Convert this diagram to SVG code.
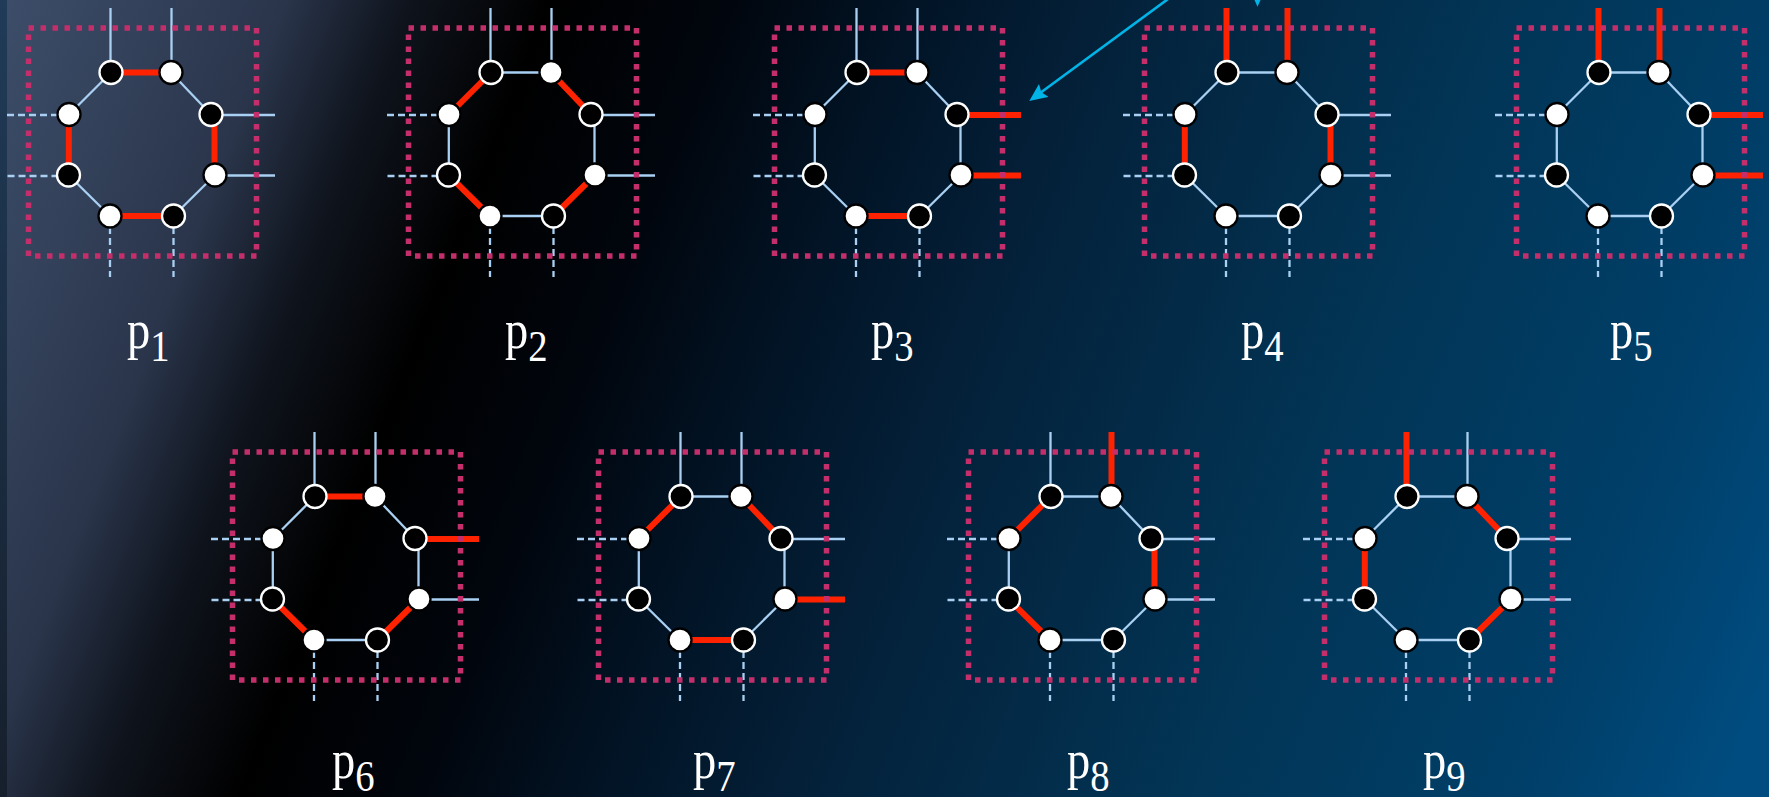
<svg xmlns="http://www.w3.org/2000/svg" xmlns:xlink="http://www.w3.org/1999/xlink" width="1769" height="797" viewBox="0 0 1769 797">
<style>
.e{stroke:#A9D0F2;stroke-width:2.3;fill:none}
.d{stroke:#A9D0F2;stroke-width:2.3;stroke-dasharray:7 4;fill:none}
.r{stroke:#FF2200;stroke-width:6;fill:none}
.b{fill:#000;stroke:#fff;stroke-width:2.3}
.w{fill:#fff;stroke:#000;stroke-width:2.3}
.box{fill:none;stroke:#C42E6A;stroke-width:5.5;stroke-dasharray:5.5 6.5}
.lbl{font-family:"Liberation Serif","Times New Roman",serif;font-size:54px;fill:#fff}
.sub{font-size:45px}
.arr{stroke:#00B4E8;stroke-width:2.6;fill:none}
</style>
<defs>
<linearGradient id="bg" gradientUnits="userSpaceOnUse" x1="0" y1="0" x2="1769" y2="690">
<stop offset="0" stop-color="#3D4E6A"/>
<stop offset="0.14" stop-color="#2A354B"/>
<stop offset="0.2" stop-color="#0F141D"/>
<stop offset="0.27" stop-color="#000000"/>
<stop offset="0.36" stop-color="#01060E"/>
<stop offset="0.45" stop-color="#021426"/>
<stop offset="0.55" stop-color="#04213A"/>
<stop offset="0.74" stop-color="#023556"/>
<stop offset="0.9" stop-color="#003F69"/>
<stop offset="1" stop-color="#004C80"/>
</linearGradient>
<linearGradient id="strip" x1="0" y1="0" x2="0" y2="1">
<stop offset="0" stop-color="#203B58"/>
<stop offset="1" stop-color="#161F2C"/>
</linearGradient>
<marker id="ah" viewBox="0 0 18 16" refX="10" refY="8" markerWidth="18" markerHeight="16" markerUnits="userSpaceOnUse" orient="auto">
<path d="M0,0 L18,8 L0,16 L3,8 z" fill="#00B4E8"/>
</marker>
<line id="e01" x1="111" y1="72.5" x2="171" y2="72.5"/>
<line id="e12" x1="171" y1="72.5" x2="211" y2="114.5"/>
<line id="e23" x1="214.5" y1="114.5" x2="214.5" y2="175"/>
<line id="e34" x1="215" y1="175" x2="173.5" y2="216"/>
<line id="e45" x1="173.5" y1="216" x2="110" y2="216"/>
<line id="e56" x1="110" y1="216" x2="68.5" y2="175"/>
<line id="e67" x1="68.8" y1="175" x2="68.8" y2="114.5"/>
<line id="e70" x1="69" y1="114.5" x2="111" y2="72.5"/>
<line id="t0" x1="110.5" y1="8" x2="110.5" y2="72.5"/>
<line id="t1" x1="171.5" y1="8" x2="171.5" y2="72.5"/>
<line id="r2" x1="211" y1="115" x2="275" y2="115"/>
<line id="r3" x1="215" y1="175.5" x2="275" y2="175.5"/>
<line id="b4" x1="173.5" y1="216" x2="173.5" y2="277"/>
<line id="b5" x1="110" y1="216" x2="110" y2="277"/>
<line id="l6" x1="7.5" y1="176" x2="68.5" y2="176"/>
<line id="l7" x1="7" y1="115" x2="69" y2="115"/>
<g id="nodes">
<circle class="b" cx="111" cy="72.5" r="11.5"/>
<circle class="w" cx="171" cy="72.5" r="11.5"/>
<circle class="b" cx="211" cy="114.5" r="11.5"/>
<circle class="w" cx="215" cy="175" r="11.5"/>
<circle class="b" cx="173.5" cy="216" r="11.5"/>
<circle class="w" cx="110" cy="216" r="11.5"/>
<circle class="b" cx="68.5" cy="175" r="11.5"/>
<circle class="w" cx="69" cy="114.5" r="11.5"/>
</g>
<rect id="box" x="28.5" y="28" width="228" height="228"/>
</defs>
<rect x="0" y="0" width="1769" height="797" fill="url(#bg)"/>
<rect x="0" y="0" width="7" height="797" fill="url(#strip)"/>

<g id="p1">
<use href="#t0" class="e"/><use href="#t1" class="e"/><use href="#r2" class="e"/><use href="#r3" class="e"/>
<use href="#b4" class="d"/><use href="#b5" class="d"/><use href="#l6" class="d"/><use href="#l7" class="d"/>
<use href="#e01" class="r"/><use href="#e12" class="e"/><use href="#e23" class="r"/><use href="#e34" class="e"/>
<use href="#e45" class="r"/><use href="#e56" class="e"/><use href="#e67" class="r"/><use href="#e70" class="e"/>
<use href="#nodes"/><use href="#box" class="box"/>
<text class="lbl" transform="matrix(0.86 0 0 1 127 348)">p<tspan class="sub" dy="13">1</tspan></text>
</g>

<g id="p2" transform="translate(380,0)">
<use href="#t0" class="e"/><use href="#t1" class="e"/><use href="#r2" class="e"/><use href="#r3" class="e"/>
<use href="#b4" class="d"/><use href="#b5" class="d"/><use href="#l6" class="d"/><use href="#l7" class="d"/>
<use href="#e01" class="e"/><use href="#e12" class="r"/><use href="#e23" class="e"/><use href="#e34" class="r"/>
<use href="#e45" class="e"/><use href="#e56" class="r"/><use href="#e67" class="e"/><use href="#e70" class="r"/>
<use href="#nodes"/><use href="#box" class="box"/>
<text class="lbl" transform="matrix(0.86 0 0 1 125 348)">p<tspan class="sub" dy="13">2</tspan></text>
</g>

<g id="p3" transform="translate(746,0)">
<use href="#t0" class="e"/><use href="#t1" class="e"/><use href="#r2" class="r"/><use href="#r3" class="r"/>
<use href="#b4" class="d"/><use href="#b5" class="d"/><use href="#l6" class="d"/><use href="#l7" class="d"/>
<use href="#e01" class="r"/><use href="#e12" class="e"/><use href="#e23" class="e"/><use href="#e34" class="e"/>
<use href="#e45" class="r"/><use href="#e56" class="e"/><use href="#e67" class="e"/><use href="#e70" class="e"/>
<use href="#nodes"/><use href="#box" class="box"/>
<text class="lbl" transform="matrix(0.86 0 0 1 125 348)">p<tspan class="sub" dy="13">3</tspan></text>
</g>

<g id="p4" transform="translate(1116,0)">
<use href="#t0" class="r"/><use href="#t1" class="r"/><use href="#r2" class="e"/><use href="#r3" class="e"/>
<use href="#b4" class="d"/><use href="#b5" class="d"/><use href="#l6" class="d"/><use href="#l7" class="d"/>
<use href="#e01" class="e"/><use href="#e12" class="e"/><use href="#e23" class="r"/><use href="#e34" class="e"/>
<use href="#e45" class="e"/><use href="#e56" class="e"/><use href="#e67" class="r"/><use href="#e70" class="e"/>
<use href="#nodes"/><use href="#box" class="box"/>
<text class="lbl" transform="matrix(0.86 0 0 1 125 348)">p<tspan class="sub" dy="13">4</tspan></text>
</g>

<g id="p5" transform="translate(1488,0)">
<use href="#t0" class="r"/><use href="#t1" class="r"/><use href="#r2" class="r"/><use href="#r3" class="r"/>
<use href="#b4" class="d"/><use href="#b5" class="d"/><use href="#l6" class="d"/><use href="#l7" class="d"/>
<use href="#e01" class="e"/><use href="#e12" class="e"/><use href="#e23" class="e"/><use href="#e34" class="e"/>
<use href="#e45" class="e"/><use href="#e56" class="e"/><use href="#e67" class="e"/><use href="#e70" class="e"/>
<use href="#nodes"/><use href="#box" class="box"/>
<text class="lbl" transform="matrix(0.86 0 0 1 122 348)">p<tspan class="sub" dy="13">5</tspan></text>
</g>

<g id="p6" transform="translate(204,424)">
<use href="#t0" class="e"/><use href="#t1" class="e"/><use href="#r2" class="r"/><use href="#r3" class="e"/>
<use href="#b4" class="d"/><use href="#b5" class="d"/><use href="#l6" class="d"/><use href="#l7" class="d"/>
<use href="#e01" class="r"/><use href="#e12" class="e"/><use href="#e23" class="e"/><use href="#e34" class="r"/>
<use href="#e45" class="e"/><use href="#e56" class="r"/><use href="#e67" class="e"/><use href="#e70" class="e"/>
<use href="#nodes"/><use href="#box" class="box"/>
<text class="lbl" transform="matrix(0.86 0 0 1 128 354)">p<tspan class="sub" dy="13">6</tspan></text>
</g>

<g id="p7" transform="translate(570,424)">
<use href="#t0" class="e"/><use href="#t1" class="e"/><use href="#r2" class="e"/><use href="#r3" class="r"/>
<use href="#b4" class="d"/><use href="#b5" class="d"/><use href="#l6" class="d"/><use href="#l7" class="d"/>
<use href="#e01" class="e"/><use href="#e12" class="r"/><use href="#e23" class="e"/><use href="#e34" class="e"/>
<use href="#e45" class="r"/><use href="#e56" class="e"/><use href="#e67" class="e"/><use href="#e70" class="r"/>
<use href="#nodes"/><use href="#box" class="box"/>
<text class="lbl" transform="matrix(0.86 0 0 1 123 354)">p<tspan class="sub" dy="13">7</tspan></text>
</g>

<g id="p8" transform="translate(940,424)">
<use href="#t0" class="e"/><use href="#t1" class="r"/><use href="#r2" class="e"/><use href="#r3" class="e"/>
<use href="#b4" class="d"/><use href="#b5" class="d"/><use href="#l6" class="d"/><use href="#l7" class="d"/>
<use href="#e01" class="e"/><use href="#e12" class="e"/><use href="#e23" class="r"/><use href="#e34" class="e"/>
<use href="#e45" class="e"/><use href="#e56" class="r"/><use href="#e67" class="e"/><use href="#e70" class="r"/>
<use href="#nodes"/><use href="#box" class="box"/>
<text class="lbl" transform="matrix(0.86 0 0 1 127 354)">p<tspan class="sub" dy="13">8</tspan></text>
</g>

<g id="p9" transform="translate(1296,424)">
<use href="#t0" class="r"/><use href="#t1" class="e"/><use href="#r2" class="e"/><use href="#r3" class="e"/>
<use href="#b4" class="d"/><use href="#b5" class="d"/><use href="#l6" class="d"/><use href="#l7" class="d"/>
<use href="#e01" class="e"/><use href="#e12" class="r"/><use href="#e23" class="e"/><use href="#e34" class="r"/>
<use href="#e45" class="e"/><use href="#e56" class="e"/><use href="#e67" class="r"/><use href="#e70" class="e"/>
<use href="#nodes"/><use href="#box" class="box"/>
<text class="lbl" transform="matrix(0.86 0 0 1 127 354)">p<tspan class="sub" dy="13">9</tspan></text>
</g>

<g id="connectors">
<line class="arr" x1="1180.3" y1="-10" x2="1035.7" y2="96.3" marker-end="url(#ah)"/>
<line class="arr" x1="1257.5" y1="-60" x2="1257.5" y2="-1.3" marker-end="url(#ah)"/>
</g>
</svg>
